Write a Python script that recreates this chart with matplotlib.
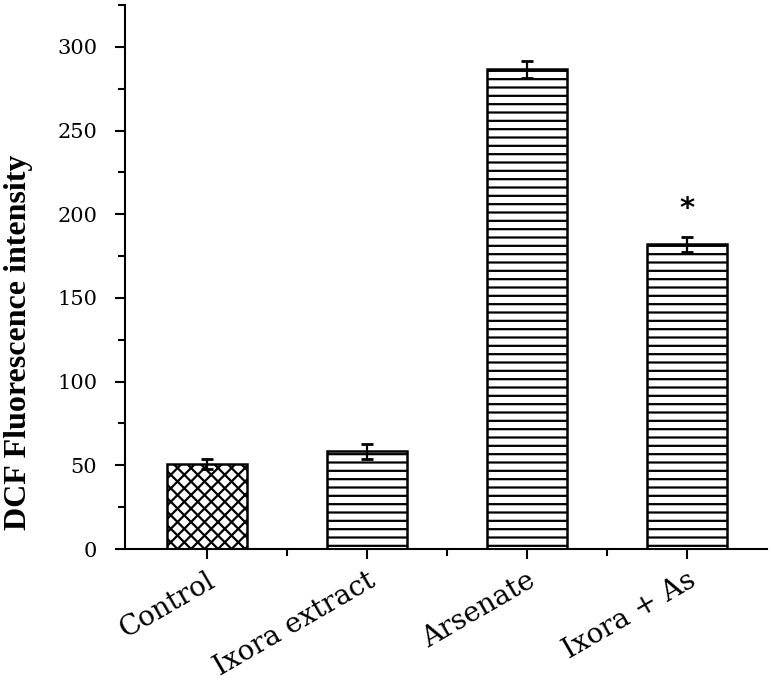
import matplotlib
matplotlib.use("Agg")
import matplotlib.pyplot as plt
import numpy as np
from matplotlib.ticker import MultipleLocator
from matplotlib.lines import Line2D
from matplotlib.transforms import IdentityTransform, ScaledTranslation

categories = ["Control", "Ixora extract", "Arsenate", "Ixora + As"]
values = [50.5, 58.5, 286.5, 182]
errors = [3.0, 4.5, 5.0, 4.5]
hatches = ["cross", "--", "--", "--"]
yticks = [0, 50, 100, 150, 200, 250, 300]

plt.rcParams["hatch.linewidth"] = 1.6
fig = plt.figure(figsize=(7.73, 6.82), dpi=100)
ax = fig.add_axes([0.1617, 0.195, 0.8305, 0.7977])
ax.set_xlim(-0.51, 3.5)
ax.set_ylim(0, 325)

x = np.arange(len(categories))
width = 0.5
for xi, v, e, h in zip(x, values, errors, hatches):
    bars = ax.bar(xi, v, width=width, color="white", edgecolor="black", linewidth=1.8,
                  hatch=None if h == "cross" else h, zorder=2)
    if h == "cross":
        patch = bars[0]
        (px0, py0), (px1, py1) = ax.transData.transform([[xi - width / 2, 0], [xi + width / 2, v]])
        step = 13.5
        span = (px1 - px0) + (py1 - py0)
        for c in np.arange(-span, span + step, step):
            for sgn in (1, -1):
                xs = np.array([px0 - span, px1 + span])
                ys = py0 + sgn * (xs - (px0 + c))
                ln = Line2D(xs, ys, transform=IdentityTransform(), color="black",
                            linewidth=1.6, zorder=2.5)
                ax.add_artist(ln)
                ln.set_clip_path(patch)
    ax.errorbar(xi, v, yerr=e, fmt="none", ecolor="black", elinewidth=1.6, capsize=4,
                capthick=2, zorder=3)

ax.text(x[3], values[3] + 21, "*", ha="center", va="center", fontsize=21, fontweight="bold",
        family="DejaVu Sans")

ax.set_yticks(yticks)
ax.yaxis.set_minor_locator(MultipleLocator(25))
ax.set_xticks(x)
ax.set_xticks(x[:-1] + 0.5, minor=True)
ax.set_xticklabels(categories, rotation=30, ha="right", rotation_mode="anchor",
                   fontsize=20, family="DejaVu Serif")
offset = ScaledTranslation(15 / 100, -8 / 100, fig.dpi_scale_trans)
for lbl in ax.get_xticklabels():
    lbl.set_transform(lbl.get_transform() + offset)
for lbl in ax.get_yticklabels():
    lbl.set_family("DejaVu Serif")
    lbl.set_fontsize(15)

ax.spines["top"].set_visible(False)
ax.spines["right"].set_visible(False)
ax.spines["left"].set_linewidth(1.5)
ax.spines["bottom"].set_linewidth(1.5)
ax.tick_params(axis="both", which="major", direction="out", length=7, width=1.5)
ax.tick_params(axis="both", which="minor", direction="out", length=5, width=1.5)
ax.tick_params(axis="y", which="major", pad=13)
ax.tick_params(axis="x", which="major", pad=6)

ax.set_ylabel("DCF Fluorescence intensity", fontsize=23, fontweight="bold",
              family="Liberation Serif")
ax.yaxis.set_label_coords(-0.143, 0.38)

fig.savefig("out.png", dpi=100)
